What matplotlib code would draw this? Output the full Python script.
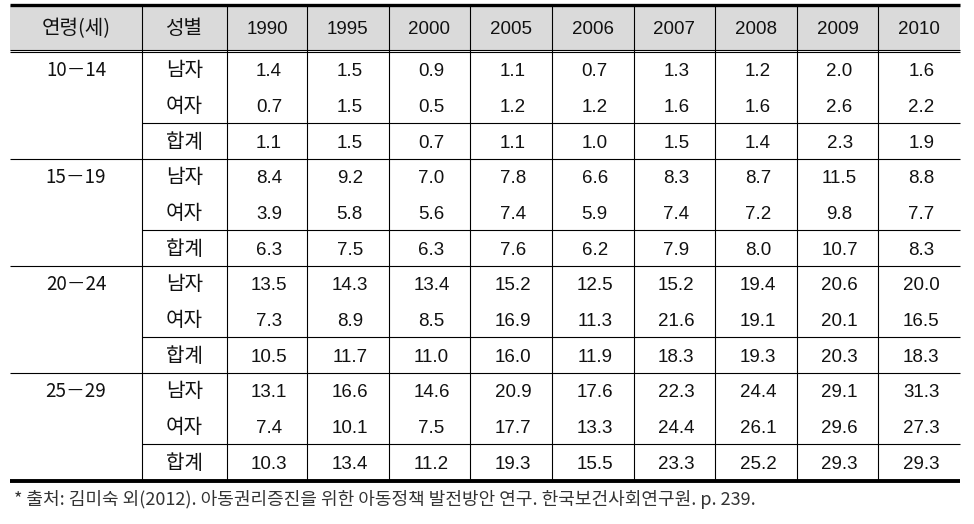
import matplotlib
matplotlib.use('Agg')
import matplotlib.pyplot as plt
from matplotlib.patches import Rectangle
import numpy as np

plt.rcParams['font.family'] = ['Noto Sans CJK KR', 'DejaVu Sans']

# Table data
years = ['1990', '1995', '2000', '2005', '2006', '2007', '2008', '2009', '2010']
age_groups = ['10－14', '15－19', '20－24', '25－29']
sexes = ['남자', '여자', '합계']

vals_10_14 = [[1.4, 1.5, 0.9, 1.1, 0.7, 1.3, 1.2, 2.0, 1.6],
              [0.7, 1.5, 0.5, 1.2, 1.2, 1.6, 1.6, 2.6, 2.2],
              [1.1, 1.5, 0.7, 1.1, 1.0, 1.5, 1.4, 2.3, 1.9]]
vals_15_19 = [[8.4, 9.2, 7.0, 7.8, 6.6, 8.3, 8.7, 11.5, 8.8],
              [3.9, 5.8, 5.6, 7.4, 5.9, 7.4, 7.2, 9.8, 7.7],
              [6.3, 7.5, 6.3, 7.6, 6.2, 7.9, 8.0, 10.7, 8.3]]
vals_20_24 = [[13.5, 14.3, 13.4, 15.2, 12.5, 15.2, 19.4, 20.6, 20.0],
              [7.3, 8.9, 8.5, 16.9, 11.3, 21.6, 19.1, 20.1, 16.5],
              [10.5, 11.7, 11.0, 16.0, 11.9, 18.3, 19.3, 20.3, 18.3]]
vals_25_29 = [[13.1, 16.6, 14.6, 20.9, 17.6, 22.3, 24.4, 29.1, 31.3],
              [7.4, 10.1, 7.5, 17.7, 13.3, 24.4, 26.1, 29.6, 27.3],
              [10.3, 13.4, 11.2, 19.3, 15.5, 23.3, 25.2, 29.3, 29.3]]
group_vals = [vals_10_14, vals_15_19, vals_20_24, vals_25_29]

header_labels = ['연령(세)', '성별'] + years
footnote = '* 출처: 김미숙 외(2012). 아동권리증진을 위한 아동정책 발전방안 연구. 한국보건사회연구원. p. 239.'

# layout in pixel units
W, H = 974, 524
col_edges = [10, 142, 227] + list(np.linspace(307, 960, 9))
col_centers = [(a + b) / 2 for a, b in zip(col_edges[:-1], col_edges[1:])]
top, head_bot = 5, 51
row_h = (480 - 52) / 12
fs = 13.5
fs_kor = 14.5
num_font = ['Liberation Sans', 'Noto Sans CJK KR']
kor_font = ['Noto Sans CJK KR', 'DejaVu Sans']
txt = '#111111'
base = 6.5  # baseline offset below the cell centre

fig = plt.figure(figsize=(W / 100, H / 100), dpi=100)
ax = fig.add_axes([0, 0, 1, 1])
ax.set_xlim(0, W)
ax.set_ylim(H, 0)
ax.axis('off')

# header
ax.add_patch(Rectangle((col_edges[0], top), col_edges[-1] - col_edges[0], head_bot - top,
                       facecolor='#dadada', edgecolor='none'))
for i, (x, lab) in enumerate(zip(col_centers, header_labels)):
    ax.text(x, (top + head_bot) / 2 + base, lab, ha='center', va='baseline',
            fontsize=fs_kor if i < 2 else fs, color=txt,
            family=kor_font if i < 2 else num_font)

ax.hlines(top, col_edges[0], col_edges[-1], color='black', lw=2.4)
ax.hlines([head_bot - 1, head_bot + 1.2], col_edges[0], col_edges[-1], color='black', lw=0.8)

# body
y0 = 52
for g, (age, vals) in enumerate(zip(age_groups, group_vals)):
    gy = y0 + g * 3 * row_h
    ax.text(col_centers[0], gy + row_h / 2 + base, age, ha='center', va='baseline',
            fontsize=fs, color=txt, family=kor_font)
    for r, (sex, row) in enumerate(zip(sexes, vals)):
        cy = gy + (r + 0.5) * row_h + base
        ax.text(col_centers[1], cy, sex, ha='center', va='baseline', fontsize=fs_kor,
                color=txt, family=kor_font)
        for x, v in zip(col_centers[2:], row):
            ax.text(x + 2, cy, f'{v:.1f}', ha='center', va='baseline', fontsize=fs,
                    color=txt, family=num_font)
    # line above the total row
    ax.hlines(gy + 2 * row_h, col_edges[1], col_edges[-1], color='black', lw=0.8)
    if g < len(age_groups) - 1:
        ax.hlines(gy + 3 * row_h, col_edges[0], col_edges[-1], color='black', lw=0.8)

bottom = y0 + 12 * row_h
ax.hlines(bottom + 1, col_edges[0], col_edges[-1], color='black', lw=2.8)
ax.vlines(col_edges[1:-1], top, bottom, color='black', lw=0.8)

ax.text(14, 505, footnote, ha='left', va='baseline', fontsize=13, color='#333333',
        family=kor_font)

fig.savefig('out.png', dpi=100)
